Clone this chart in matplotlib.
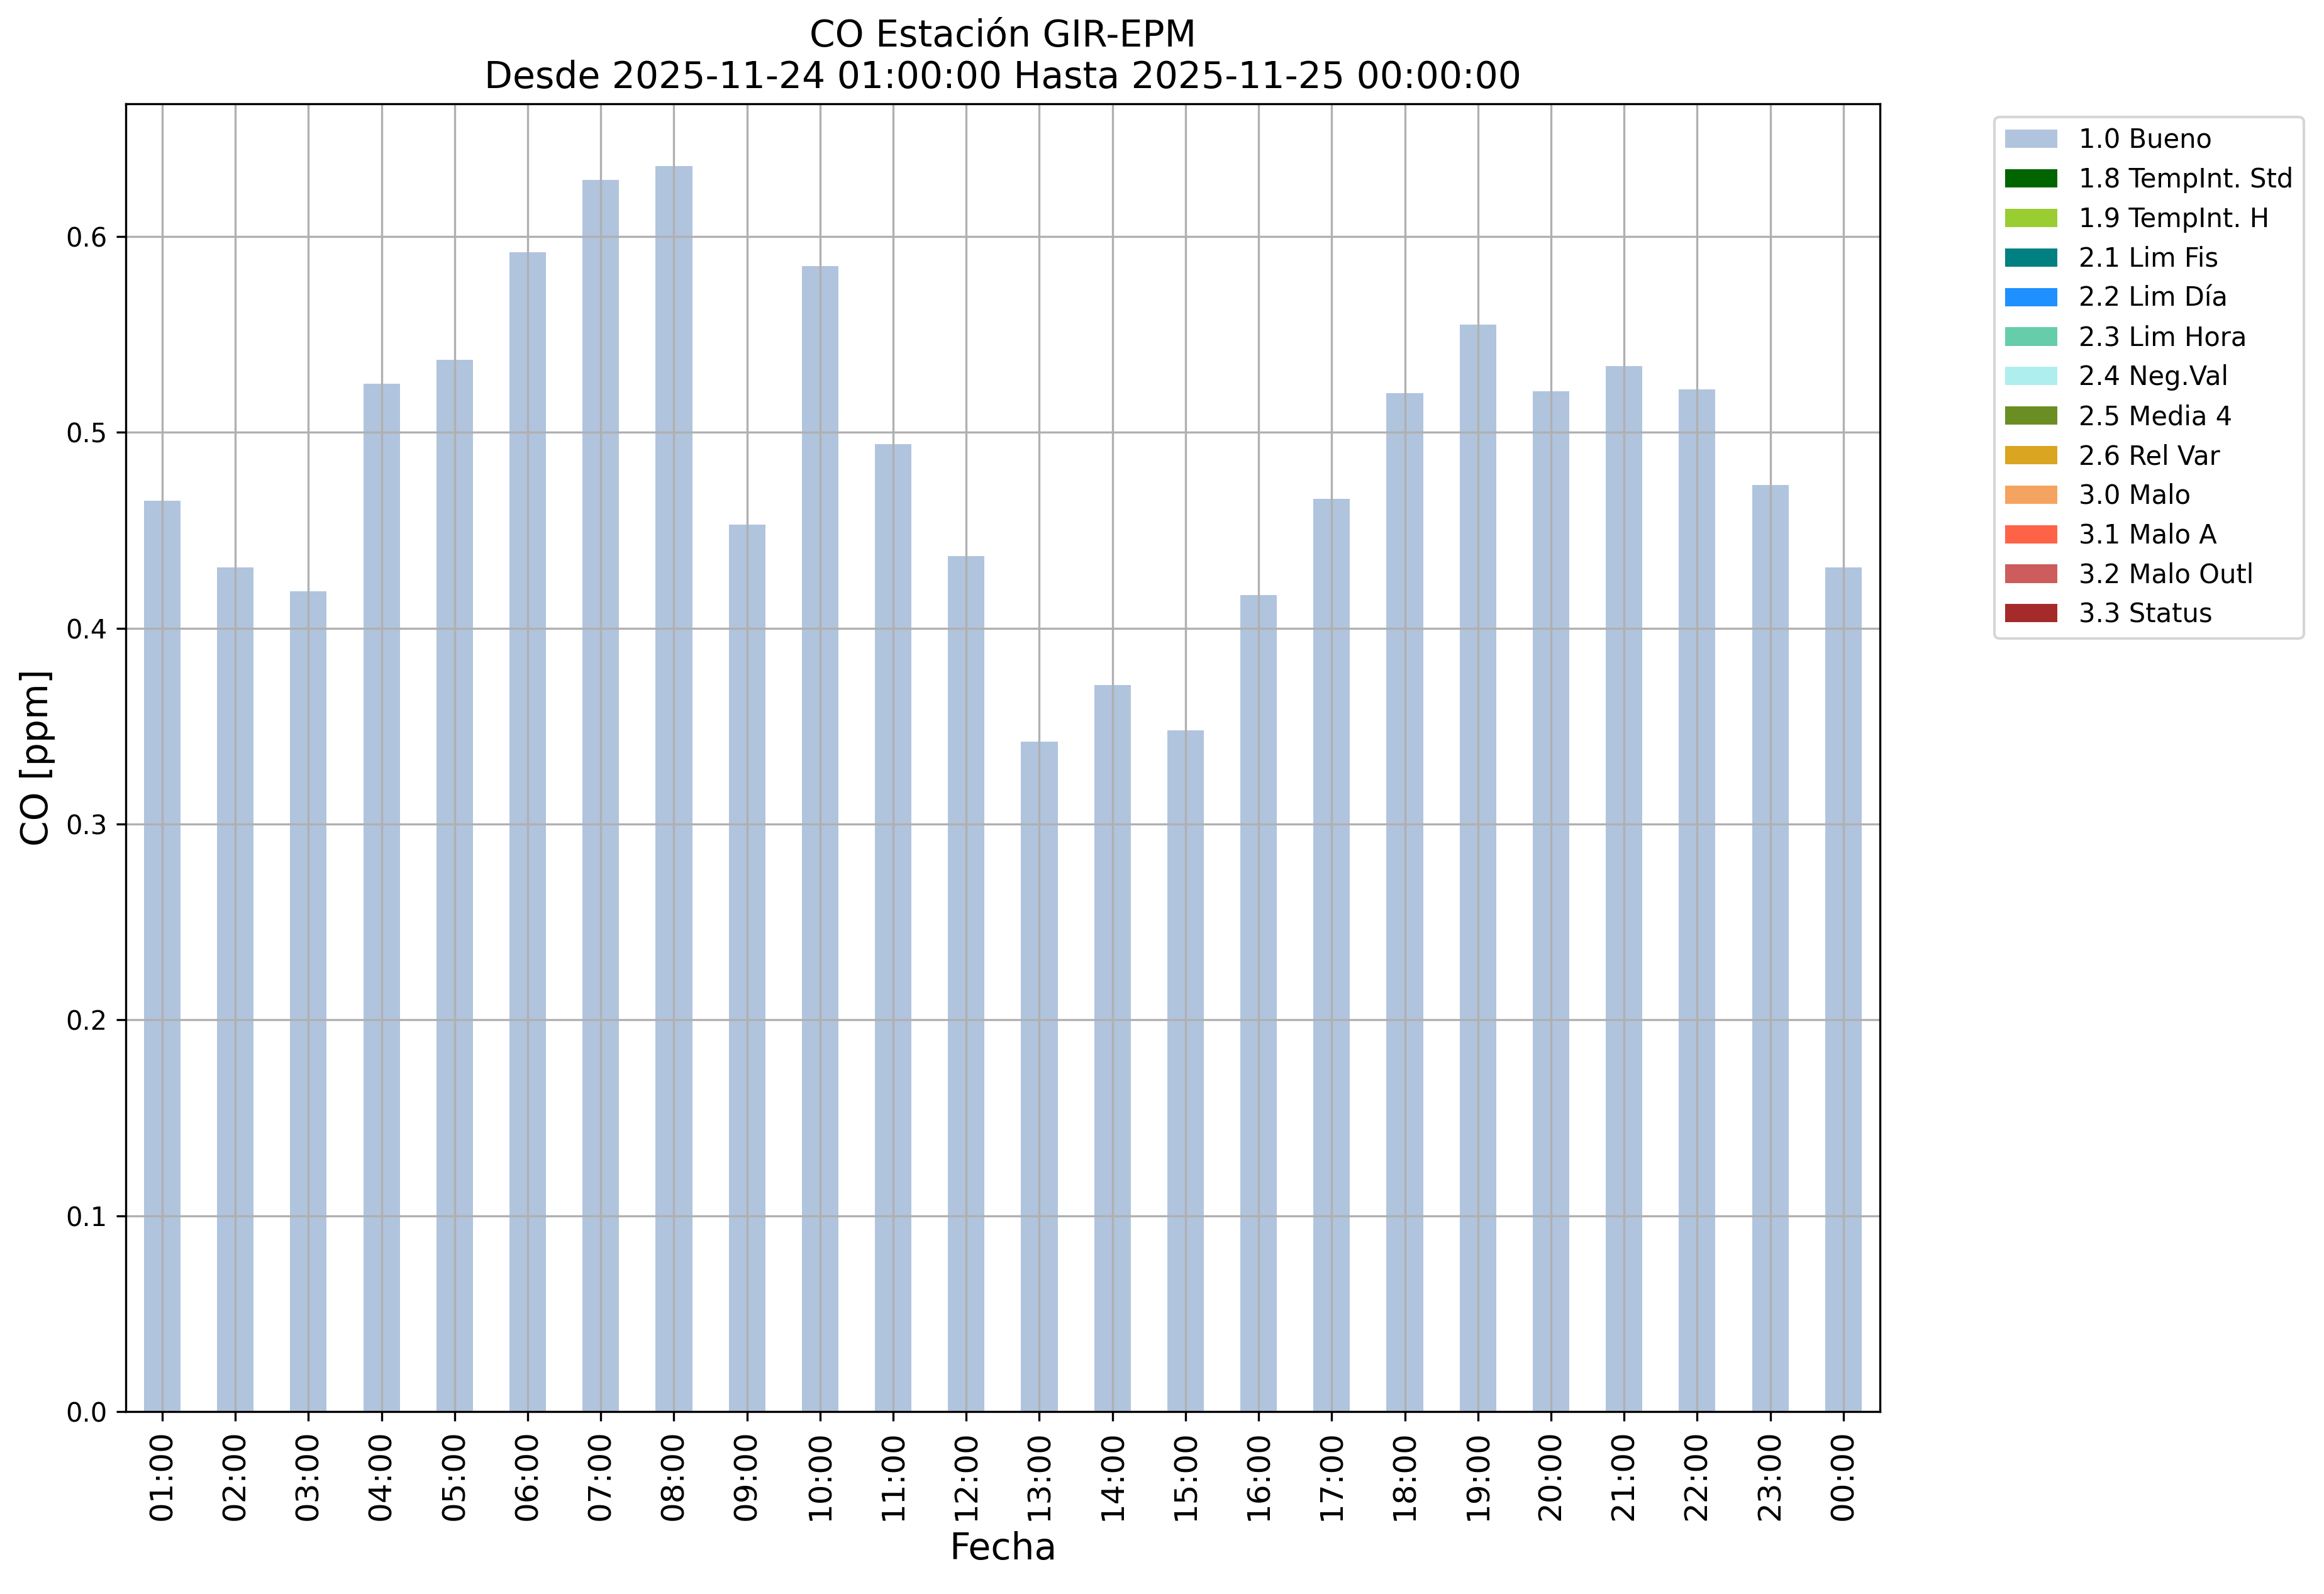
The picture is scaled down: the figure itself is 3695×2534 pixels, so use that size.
import numpy as np
import matplotlib
matplotlib.use("Agg")
import matplotlib.pyplot as plt

# ── Data ──────────────────────────────────────────────────────────────────────
horas = ["01:00", "02:00", "03:00", "04:00", "05:00", "06:00", "07:00", "08:00",
         "09:00", "10:00", "11:00", "12:00", "13:00", "14:00", "15:00", "16:00",
         "17:00", "18:00", "19:00", "20:00", "21:00", "22:00", "23:00", "00:00"]

co_bueno = [0.465, 0.431, 0.419, 0.525, 0.537, 0.592, 0.629, 0.636,
            0.453, 0.585, 0.494, 0.437, 0.342, 0.371, 0.348, 0.417,
            0.466, 0.520, 0.555, 0.521, 0.534, 0.522, 0.473, 0.431]

flags = ["1.0 Bueno", "1.8 TempInt. Std", "1.9 TempInt. H", "2.1 Lim Fis",
         "2.2 Lim Día", "2.3 Lim Hora", "2.4 Neg.Val", "2.5 Media 4",
         "2.6 Rel Var", "3.0 Malo", "3.1 Malo A", "3.2 Malo Outl", "3.3 Status"]

flag_colors = ["lightsteelblue", "darkgreen", "yellowgreen", "teal",
               "dodgerblue", "mediumaquamarine", "paleturquoise", "olivedrab",
               "goldenrod", "sandybrown", "tomato", "indianred", "brown"]

# only "Bueno" has data in this window; the other flags are empty
series = {f: [0.0] * len(horas) for f in flags}
series["1.0 Bueno"] = co_bueno

# ── Plot ──────────────────────────────────────────────────────────────────────
fig = plt.figure(figsize=(3695 / 300, 2534 / 300), dpi=300)
ax = fig.add_axes([0.0541, 0.1144, 0.8089 - 0.0541, 0.9349 - 0.1144])

x = np.arange(len(horas))
bottom = np.zeros(len(horas))
for f, c in zip(flags, flag_colors):
    vals = np.array(series[f])
    ax.bar(x, vals, 0.5, bottom=bottom, color=c, label=f)
    bottom += vals

# same headroom pandas gives (5% margin above the tallest stack)
ax.set_ylim(0, bottom.max() * 1.05)
ax.set_xlim(-0.5, len(horas) - 0.5)
ax.set_xticks(x)
ax.set_xticklabels(horas, rotation=90, fontsize=12)
ax.grid(True)

ax.set_title("CO Estación GIR-EPM\nDesde 2025-11-24 01:00:00 Hasta 2025-11-25 00:00:00",
             fontsize=14)
ax.set_xlabel("Fecha", fontsize=14)
ax.set_ylabel("CO [ppm]", fontsize=14)
ax.legend(loc="upper left", bbox_to_anchor=(1.058, 1), fontsize=10)

fig.savefig("out.png", dpi=300)
